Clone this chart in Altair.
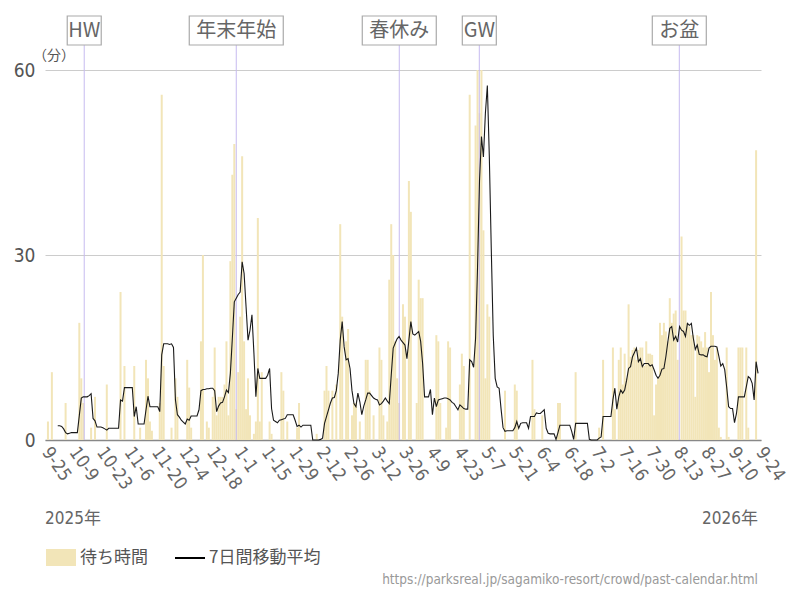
import json
import altair as alt
import pandas as pd

# ---------------- data ----------------
# daily values, day 0 = 2025-09-25
wait_min = [
    0, 3, 0, 11, 0, 0, 0, 0, 0, 0,
    6, 0, 0, 0, 0, 0, 0, 19, 10, 6,
    0, 0, 0, 2, 0, 7, 0, 0, 0, 0,
    0, 9, 0, 0, 0, 0, 0, 0, 24, 0,
    12, 0, 0, 0, 0, 12, 0, 0, 2, 0,
    0, 13, 10, 3, 1.5, 0, 0, 0, 6, 56,
    12, 0, 0, 0, 2, 0, 10, 7, 0, 0,
    0, 0, 13, 8.5, 2, 0, 0, 0, 0, 16,
    30, 0, 3, 2, 0, 7, 15, 4, 7, 7,
    7, 9, 16, 4, 29, 43, 48, 5, 11, 20,
    46, 16, 5, 10, 4, 0, 1, 3, 36, 3,
    11, 0, 0, 0, 3, 1, 0, 0, 0, 0,
    11, 8, 0, 3, 0, 0, 0, 0, 2, 6,
    0, 0, 0, 0, 0, 0, 0, 0, 1, 0,
    0, 0, 8, 12, 8, 0, 8, 0, 9, 0,
    35, 20, 0, 16, 18, 0, 4, 6, 6, 0,
    3, 0, 0, 13, 13, 8, 0, 4, 0, 0,
    15, 13, 4, 0, 3, 26, 35, 30, 16, 10,
    6, 0, 22, 20, 0, 42, 37, 0, 0, 6,
    26, 23, 23, 0, 0, 0, 0, 0, 0, 17,
    16, 6, 0, 0, 2, 16, 15, 0, 0, 0,
    0, 9, 14, 12, 0, 0, 56, 0, 0, 51,
    60, 53, 60, 34, 10, 22, 20, 0, 0, 0,
    0, 0, 0, 0, 8, 0, 0, 0, 0, 9,
    8, 0, 0, 0, 0, 0, 0, 0, 13, 5,
    0, 0, 0, 4, 0, 0, 0, 0, 0, 0,
    0, 6, 6, 0, 0, 0, 0, 0, 0, 0,
    11, 0, 0, 0, 0, 0, 0, 0, 0, 0,
    0, 0, 2, 0, 13, 0, 0, 0, 0, 15,
    5, 0, 13, 15, 9, 14, 10, 22, 13.5, 14.6,
    15, 13, 14.6, 15, 15, 12, 16, 14, 14, 13.8,
    4, 9, 10, 19, 17, 19, 17.6, 16, 23, 19,
    20.5, 21, 13, 0, 33, 21, 21, 19, 18.4, 17,
    17, 7, 17, 16.8, 16, 15, 17.5, 15, 11, 24,
    17, 13, 15, 2, 0.5, 0, 0, 15, 0.5, 0,
    0, 0, 0, 15, 15, 15, 0, 15, 2, 0,
    0, 0, 47, 0,
]

# 7-day moving average as drawn
ma7 = [
    None, None, None, None, None, None, 2.3, 2.3, 2.2, 1.8,
    1.2, 1.0, 1.1, 1.2, 1.2, 1.2, 1.2, 4.0, 6.8, 7.0,
    7.0, 7.0, 7.2, 7.5, 3.5, 3.1, 2.1, 2.1, 2.1, 2.0,
    1.8, 1.6, 1.9, 1.9, 1.9, 1.9, 1.9, 1.9, 6.5, 6.3,
    8.5, 8.5, 8.5, 8.5, 8.5, 3.8, 5.4, 2.6, 2.6, 2.6,
    2.6, 4.9, 7.1, 5.4, 5.4, 5.4, 5.4, 5.4, 4.6, 13.8,
    15.6, 15.6, 15.6, 15.5, 15.6, 15.0, 6.5, 4.1, 3.7, 3.2,
    2.9, 2.6, 3.4, 3.2, 3.9, 3.9, 3.9, 3.9, 4.9, 8.0,
    8.2, 8.2, 8.3, 8.3, 8.4, 8.4, 8.0, 4.6, 5.5, 6.0,
    6.1, 7.0, 8.1, 7.7, 10.8, 16.5, 22.4, 23.0, 23.6, 24.0,
    28.9, 27.0, 21.6, 16.2, 17.8, 20.3, 14.1, 7.0, 11.6, 10.0,
    10.0, 10.0, 10.0, 10.5, 11.6, 5.1, 3.2, 3.0, 2.8, 3.2,
    3.3, 3.4, 3.5, 4.1, 4.1, 4.1, 4.1, 3.2, 2.2, 2.4,
    2.1, 2.4, 2.4, 2.4, 2.4, 2.4, 0, 0, 0, 0,
    0.1, 0.3, 2.7, 3.8, 4.9, 6.0, 6.8, 6.9, 8.0, 10.8,
    16.2, 19.2, 15.1, 13.0, 13.2, 11.6, 8.0, 5.9, 5.4, 7.6,
    6.2, 4.1, 5.5, 6.5, 7.6, 7.6, 7.2, 6.8, 6.6, 6.5,
    5.7, 5.9, 6.3, 6.8, 6.3, 5.9, 10.5, 14.9, 15.7, 16.4,
    16.8, 16.2, 15.8, 15.4, 13.2, 16.2, 19.2, 17.2, 17.0, 17.3,
    17.6, 16.0, 12.4, 7.0, 7.0, 7.0, 8.2, 4.1, 6.8, 5.4,
    6.5, 6.6, 6.7, 6.8, 6.8, 6.7, 6.5, 6.1, 5.9, 5.4,
    4.9, 5.7, 5.4, 5.1, 5.0, 5.0, 13.0, 12.7, 11.8, 16.5,
    28.0, 42.0, 49.2, 45.9, 53.0, 57.5, 46.0, 31.0, 17.0, 10.0,
    8.6, 8.4, 5.0, 2.0, 1.4, 1.5, 1.5, 1.5, 1.5, 2.0,
    3.0, 1.9, 2.7, 2.8, 2.8, 2.8, 1.9, 3.8, 3.8, 3.8,
    4.4, 4.3, 4.3, 4.6, 4.9, 1.9, 1.1, 1.0, 1.0, 1.0,
    0.1, 1.2, 2.4, 2.4, 2.4, 2.4, 2.4, 2.4, 1.4, 0.1,
    2.7, 2.7, 2.7, 2.7, 2.7, 2.7, 2.7, 0.1, 0, 0,
    0, 0, 0.3, 0.5, 3.8, 3.8, 3.8, 3.8, 3.8, 6.5,
    8.4, 5.0, 7.0, 8.1, 7.6, 8.1, 9.7, 11.6, 11.9, 13.5,
    14.2, 14.9, 12.7, 13.2, 11.9, 12.4, 12.4, 12.4, 12.0, 12.2,
    11.4, 10.5, 10.0, 10.5, 11.5, 11.6, 13.5, 15.9, 18.1, 18.4,
    16.2, 16.8, 15.9, 18.4, 17.8, 17.6, 16.8, 18.9, 18.6, 18.9,
    16.5, 14.7, 15.4, 13.9, 13.8, 13.8, 13.6, 13.5, 14.9, 15.2,
    15.2, 15.2, 15.1, 13.6, 12.0, 12.4, 11.4, 8.6, 5.4, 5.1,
    5.1, 2.8, 4.3, 7.0, 7.0, 7.0, 7.0, 8.6, 10.3, 10.0,
    9.2, 6.5, 12.7, 10.8,
]

tick_labels = ["9-25", "10-9", "10-23", "11-6", "11-20", "12-4", "12-18",
               "1-1", "1-15", "1-29", "2-12", "2-26", "3-12", "3-26", "4-9",
               "4-23", "5-7", "5-21", "6-4", "6-18", "7-2", "7-16", "7-30",
               "8-13", "8-27", "9-10", "9-24"]
tick_step = 14

event_names = ["HW", "年末年始", "春休み", "GW", "お盆"]
event_days = [20.0, 97.5, 180.6, 221.4, 323.35]   # days after 2025-09-25

year_labels = ["2025年", "2026年"]
legend_labels = ["待ち時間", "7日間移動平均"]
source_url = "https://parksreal.jp/sagamiko-resort/crowd/past-calendar.html"
y_unit = "（分）"
y_ticks = [0, 30, 60]

# ---------------- chart ----------------
W, H = 716, 370
N_DAYS = 365
BAR_COLOR = "#f2e5b8"
COND = "Liberation Sans Narrow, DejaVu Sans Condensed, Roboto Condensed, Roboto, Noto Sans CJK JP, sans-serif"
JP = "Noto Sans CJK JP, Noto Sans, sans-serif"

df = pd.DataFrame({
    "u": [i + 0.5 for i in range(len(wait_min))],
    "wait": wait_min,
    "ma": ma7,
})
ev = pd.DataFrame({"u": event_days, "name": event_names})

tick_vals = [i * tick_step for i in range(len(tick_labels))]
label_expr = json.dumps(tick_labels, ensure_ascii=False) + f"[round(datum.value / {tick_step})]"

xscale = alt.Scale(domain=[0, N_DAYS], nice=False, zero=False, padding=0)
yscale = alt.Scale(domain=[0, 60], nice=False, padding=0)
xaxis = alt.Axis(values=tick_vals, labelExpr=label_expr, labelAngle=55,
                 labelAlign="left", labelBaseline="middle", labelFontSize=18,
                 labelColor="#666", labelFont=COND, labelPadding=9,
                 ticks=False, grid=False, domainColor="#888", domainWidth=1.5,
                 title=None, labelOverlap=False, labelBound=False, labelFlush=False)
yaxis = alt.Axis(values=y_ticks, grid=True, gridColor="#cccccc", domain=False,
                 ticks=False, labelFontSize=19, labelColor="#555", labelFont=COND,
                 labelPadding=10, title=None)


def X(field):
    return alt.X(field, type="quantitative", scale=xscale, axis=xaxis)


def Y(field):
    return alt.Y(field, type="quantitative", scale=yscale, axis=yaxis)


bars = alt.Chart(df).mark_bar(size=2, color=BAR_COLOR).encode(x=X("u"), y=Y("wait"))

rules = alt.Chart(ev).mark_rule(color="#c6bbf0", strokeWidth=1).encode(
    x=X("u"), y=alt.value(-25), y2=alt.value(H))

line = alt.Chart(df).mark_line(color="#1a1a1a", strokeWidth=1.1).encode(x=X("u"), y=Y("ma"))

boxes = []
for name, day in zip(event_names, event_days):
    w = sum(20 if ord(c) > 255 else 10 for c in name) + 14
    boxes.append(
        alt.Chart(pd.DataFrame({"u": [day]})).mark_rect(
            fill="white", stroke="#aaaaaa", strokeWidth=1.2,
            xOffset=-w / 2, x2Offset=w / 2
        ).encode(x=X("u"), x2="u", y=alt.value(-54), y2=alt.value(-25))
    )

ev_text = alt.Chart(ev).mark_text(fontSize=20, color="#666", font=JP,
                                  baseline="middle", align="center").encode(
    x=X("u"), y=alt.value(-39), text="name:N")

one = alt.Data(values=[{"a": 1}])


def free_text(txt, x, y, size, color, align="left", font=JP):
    return alt.Chart(one).mark_text(text=txt, fontSize=size, color=color, font=font,
                                    align=align, baseline="middle").encode(
        x=alt.value(x), y=alt.value(y))


unit_txt = free_text(y_unit, 9, -14, 14, "#555", align="center")
y1 = free_text(year_labels[0], 0, 449, 17, "#666", font=COND)
y2 = free_text(year_labels[1], 713, 449, 17, "#666", align="right", font=COND)

swatch = alt.Chart(one).mark_rect(color=BAR_COLOR).encode(
    x=alt.value(1), x2=alt.value(31), y=alt.value(479), y2=alt.value(496))
leg1 = free_text(legend_labels[0], 35, 488, 17, "#555")
leg_line = alt.Chart(one).mark_rule(color="black", strokeWidth=2).encode(
    x=alt.value(130), x2=alt.value(160), y=alt.value(488))
leg2 = free_text(legend_labels[1], 164, 488, 17, "#555")
url = free_text(source_url, 713, 510, 13.5, "#999", align="right", font=COND)

chart = alt.layer(
    bars, rules, line, *boxes, ev_text, unit_txt, y1, y2,
    swatch, leg1, leg_line, leg2, url
).properties(
    width=W, height=H,
    autosize=alt.AutoSizeParams(type="none"),
    padding={"left": 37, "top": 62, "right": 30, "bottom": 150},
    background="white",
).configure_view(stroke=None)

chart.save("out.html", embed_options={"renderer": "svg", "actions": False})
